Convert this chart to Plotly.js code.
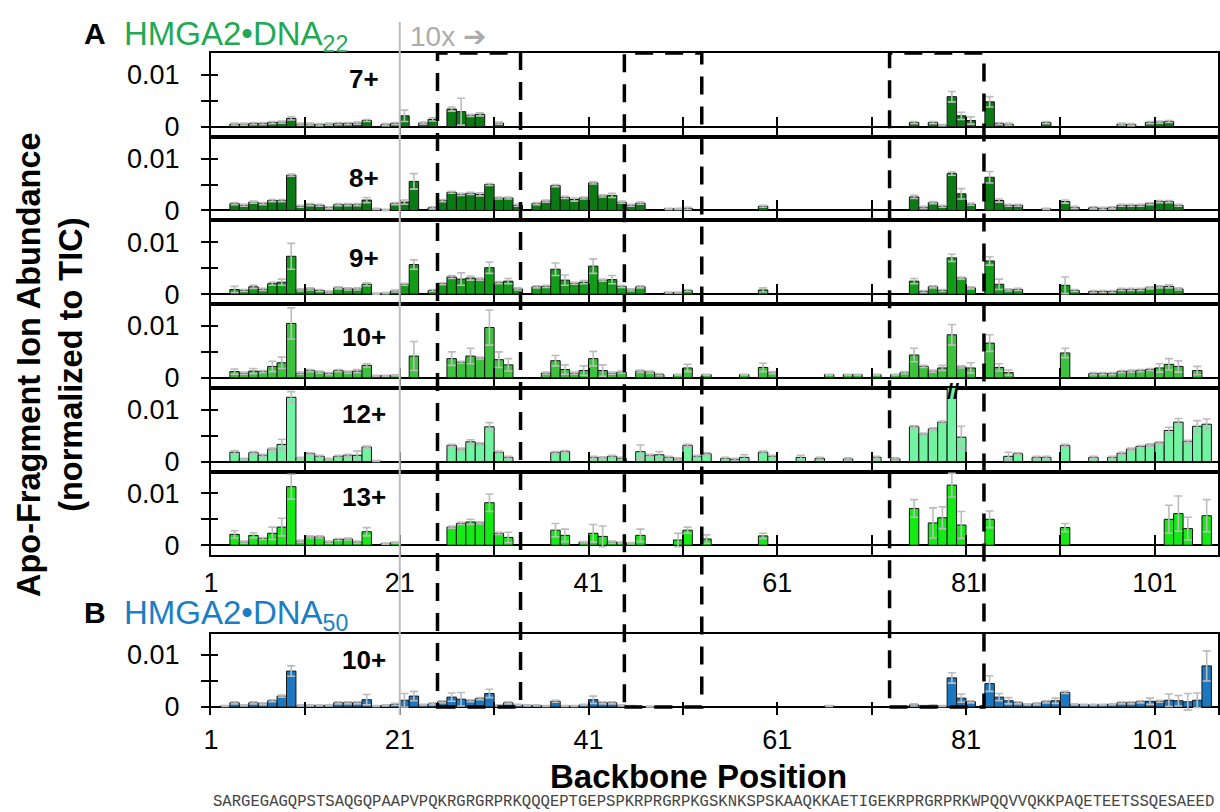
<!DOCTYPE html>
<html>
<head>
<meta charset="utf-8">
<script src="https://cdn.plot.ly/plotly-3.0.1.min.js"></script>
<style>
  html, body { margin: 0; padding: 0; background: #ffffff; }
  #chart { width: 1220px; height: 812px; }
</style>
</head>
<body>
<div id="chart"></div>
<script>
// Apo-fragment ion abundances (normalized to TIC) per backbone cleavage position.
// posN = backbone position, abN = mean abundance, sdN = standard deviation.

// HMGA2•DNA22, 7+
const pos7 = [3,4,5,6,7,8,9,10,11,12,13,14,15,16,17,19,20,21,23,24,26,27,28,29,31,
  75,77,78,79,80,81,83,84,85,89,97,98,100,101,102];
const ab7 = [.0005,.0005,.0006,.0006,.0008,.0009,.0016,.0005,.0005,.0004,.0005,.0006,.0006,.0007,.0012,.0004,.0006,.0021,.0007,.0014,.0034,.0029,.0022,.0024,.0007,
  .0008,.0008,.0003,.0058,.0021,.0012,.0048,.0006,.0005,.0008,.0005,.0004,.0008,.0009,.0010];
const sd7 = [.0002,.0002,.0002,.0002,.0002,.0002,.0003,.0002,.0002,.0002,.0002,.0002,.0002,.0002,.0002,.0002,.0002,.0011,.0002,.0003,.0004,.0026,.0002,.0003,.0002,
  .0002,.0002,.0001,.0010,.0007,.0007,.0010,.0002,.0002,.0002,.0002,.0002,.0002,.0002,.0002];

// HMGA2•DNA22, 8+
const pos8 = [3,4,5,6,7,8,9,10,11,12,13,14,15,16,17,18,19,20,21,22,
  24,25,26,27,28,29,30,31,32,33,
  35,36,37,38,39,40,41,42,43,44,45,46,
  49,50,51,59,
  75,76,77,78,79,80,81,
  83,84,85,86,
  89,91,92,
  94,95,96,97,98,99,100,101,102,103];
const ab8 = [.0013,.0010,.0016,.0013,.0019,.0019,.0068,.0008,.0011,.0010,.0005,.0011,.0011,.0011,.0020,.0003,.0001,.0013,.0016,.0056,
  .0005,.0019,.0035,.0031,.0033,.0031,.0050,.0024,.0024,.0010,
  .0013,.0018,.0048,.0025,.0021,.0024,.0053,.0028,.0029,.0016,.0010,.0014,
  .0003,.0003,.0004,.0008,
  .0026,.0006,.0015,.0008,.0071,.0032,.0012,
  .0064,.0019,.0010,.0010,
  .0003,.0017,.0006,
  .0005,.0004,.0005,.0010,.0010,.0010,.0013,.0017,.0017,.0010];
const sd8 = [.0002,.0002,.0002,.0002,.0002,.0002,.0002,.0002,.0002,.0002,.0002,.0002,.0002,.0002,.0005,.0001,.0001,.0002,.0004,.0015,
  .0002,.0002,.0002,.0002,.0002,.0003,.0002,.0002,.0002,.0002,
  .0002,.0002,.0002,.0002,.0003,.0002,.0002,.0002,.0004,.0002,.0002,.0002,
  .0001,.0001,.0002,.0002,
  .0003,.0002,.0002,.0002,.0003,.0010,.0002,
  .0011,.0003,.0002,.0002,
  .0001,.0003,.0002,
  .0002,.0002,.0002,.0002,.0002,.0002,.0002,.0002,.0002,.0002];

// HMGA2•DNA22, 9+
const pos9 = [3,4,5,6,7,8,9,10,11,12,13,14,15,16,17,18,19,20,21,22,
  24,25,26,27,28,29,30,31,32,33,
  35,36,37,38,39,40,41,42,43,44,45,46,
  49,50,51,59,
  75,76,77,78,79,80,81,
  83,84,85,86,
  91,92,
  94,95,96,97,98,99,100,101,102,103];
const ab9 = [.0009,.0007,.0014,.0009,.0020,.0023,.0073,.0008,.0010,.0007,.0004,.0012,.0010,.0010,.0019,.0001,.0002,.0006,.0019,.0057,
  .0007,.0020,.0033,.0029,.0031,.0029,.0051,.0022,.0025,.0010,
  .0014,.0015,.0048,.0027,.0021,.0023,.0054,.0027,.0028,.0015,.0008,.0014,
  .0003,.0003,.0007,.0008,
  .0025,.0005,.0014,.0007,.0070,.0031,.0012,
  .0064,.0019,.0008,.0009,
  .0017,.0007,
  .0005,.0005,.0005,.0009,.0009,.0009,.0012,.0014,.0015,.0010];
const sd9 = [.0006,.0002,.0003,.0002,.0003,.0006,.0025,.0002,.0002,.0002,.0002,.0002,.0002,.0002,.0003,.0001,.0001,.0002,.0002,.0009,
  .0002,.0002,.0003,.0012,.0004,.0002,.0011,.0002,.0005,.0002,
  .0002,.0002,.0012,.0010,.0002,.0003,.0014,.0002,.0008,.0002,.0002,.0002,
  .0001,.0001,.0002,.0004,
  .0005,.0002,.0002,.0002,.0007,.0002,.0002,
  .0008,.0010,.0002,.0002,
  .0016,.0002,
  .0002,.0002,.0002,.0002,.0002,.0002,.0002,.0002,.0003,.0002];

// HMGA2•DNA22, 10+
const pos10 = [3,4,5,6,7,8,9,10,11,12,13,14,15,16,17,18,19,20,
  22,
  26,27,28,29,30,31,32,
  36,37,38,39,40,41,42,43,44,
  46,47,48,
  50,51,
  53,57,
  59,60,
  66,
  68,69,
  71,
  73,74,75,76,77,78,79,80,81,
  83,84,85,
  91,
  94,95,96,97,98,99,100,101,102,103,
  105];
const ab10 = [.0012,.0009,.0013,.0012,.0022,.0029,.0105,.0009,.0014,.0011,.0008,.0014,.0011,.0013,.0024,.0004,.0004,.0005,
  .0042,
  .0037,.0030,.0042,.0038,.0097,.0035,.0025,
  .0009,.0033,.0016,.0009,.0014,.0037,.0014,.0009,.0011,
  .0013,.0011,.0006,
  .0006,.0019,
  .0006,.0006,
  .0020,.0010,
  .0006,
  .0006,.0006,
  .0006,
  .0006,.0010,.0044,.0022,.0013,.0019,.0083,.0021,.0019,
  .0067,.0020,.0010,
  .0048,
  .0008,.0008,.0008,.0012,.0013,.0014,.0016,.0019,.0026,.0022,
  .0014];
const sd10 = [.0005,.0002,.0005,.0002,.0010,.0011,.0030,.0002,.0002,.0002,.0002,.0002,.0002,.0003,.0003,.0001,.0001,.0001,
  .0028,
  .0013,.0002,.0015,.0002,.0034,.0015,.0012,
  .0002,.0010,.0009,.0002,.0009,.0014,.0011,.0002,.0002,
  .0002,.0002,.0002,
  .0001,.0007,
  .0001,.0001,
  .0008,.0002,
  .0001,
  .0001,.0001,
  .0001,
  .0001,.0002,.0013,.0002,.0002,.0005,.0020,.0002,.0010,
  .0016,.0007,.0005,
  .0009,
  .0002,.0002,.0002,.0002,.0002,.0002,.0002,.0008,.0011,.0011,
  .0008];

// HMGA2•DNA22, 12+ (position 79 runs off scale)
const pos12 = [3,4,5,6,7,8,9,10,11,12,13,14,15,16,17,18,
  26,27,28,29,30,31,32,
  37,38,
  41,42,43,44,
  46,47,48,49,50,51,52,53,
  55,56,57,
  59,60,
  63,65,68,71,73,
  75,76,77,78,79,80,
  85,86,
  88,89,
  91,94,
  96,97,98,99,100,101,102,103,104,105,106];
const ab12 = [.0018,.0005,.0017,.0012,.0024,.0033,.0124,.0007,.0015,.0010,.0005,.0010,.0012,.0012,.0028,.0001,
  .0031,.0024,.0038,.0034,.0067,.0018,.0008,
  .0017,.0019,
  .0008,.0007,.0010,.0006,
  .0019,.0012,.0013,.0008,.0005,.0031,.0010,.0015,
  .0006,.0004,.0008,
  .0018,.0010,
  .0008,.0006,.0005,.0008,.0005,
  .0067,.0053,.0063,.0076,.0200,.0047,
  .0010,.0015,
  .0008,.0008,
  .0031,.0008,
  .0008,.0016,.0024,.0029,.0032,.0036,.0060,.0076,.0039,.0068,.0072];
const sd12 = [.0003,.0001,.0002,.0002,.0002,.0010,.0011,.0001,.0002,.0002,.0001,.0002,.0002,.0008,.0002,.0001,
  .0002,.0002,.0004,.0002,.0008,.0002,.0002,
  .0002,.0002,
  .0002,.0002,.0002,.0002,
  .0013,.0002,.0006,.0002,.0002,.0002,.0002,.0002,
  .0002,.0002,.0005,
  .0002,.0002,
  .0004,.0002,.0002,.0002,.0002,
  .0002,.0002,.0002,.0002,0,.0021,
  .0008,.0002,
  .0002,.0002,
  .0002,.0002,
  .0002,.0002,.0002,.0002,.0002,.0002,.0006,.0007,.0002,.0011,.0010];

// HMGA2•DNA22, 13+
const pos13 = [3,4,5,6,7,8,9,10,11,12,13,14,15,16,17,
  19,20,
  26,27,28,29,30,31,32,
  37,38,
  40,41,42,43,44,45,46,
  50,51,53,59,
  75,77,78,79,80,
  83,91,
  102,103,104,106];
const ab13 = [.0021,.0006,.0019,.0013,.0023,.0035,.0113,.0008,.0016,.0016,.0006,.0011,.0012,.0006,.0026,
  .0003,.0005,
  .0035,.0042,.0045,.0043,.0082,.0023,.0015,
  .0029,.0019,
  .0006,.0023,.0017,.0006,.0005,.0004,.0019,
  .0010,.0029,.0012,.0018,
  .0071,.0043,.0053,.0116,.0039,
  .0050,.0034,
  .0050,.0061,.0032,.0057];
const sd13 = [.0007,.0002,.0005,.0002,.0012,.0017,.0024,.0002,.0002,.0002,.0002,.0002,.0002,.0002,.0008,
  .0001,.0001,
  .0002,.0002,.0005,.0002,.0017,.0002,.0010,
  .0013,.0012,
  .0001,.0017,.0020,.0002,.0001,.0001,.0012,
  .0013,.0006,.0008,.0005,
  .0017,.0029,.0021,.0023,.0026,
  .0016,.0008,
  .0027,.0034,.0022,.0031];

// HMGA2•DNA50, 10+
const posB = [2,3,4,5,6,7,8,9,10,11,12,13,14,15,16,17,18,19,20,21,22,23,24,25,26,27,28,29,30,31,32,33,34,35,36,37,38,39,40,41,42,43,44,45,
  47,66,
  75,76,77,78,79,80,81,
  83,84,85,86,87,88,89,90,91,92,93,94,95,96,97,98,99,100,101,102,103,104,105,106];
const abB = [.0002,.0008,.0003,.0008,.0006,.0012,.0021,.0069,.0003,.0003,.0003,.0003,.0008,.0008,.0008,.0014,.0002,.0003,.0005,.0013,.0021,.0004,.0006,.0010,.0019,.0015,.0012,.0016,.0026,.0003,.0008,.0004,.0003,.0003,.0002,.0011,.0002,.0002,.0004,.0014,.0008,.0008,.0003,.0002,
  .0001,.0002,
  .0004,.0002,.0003,.0002,.0056,.0017,.0010,
  .0045,.0019,.0012,.0008,.0005,.0006,.0010,.0012,.0028,.0005,.0004,.0004,.0004,.0005,.0008,.0008,.0010,.0011,.0011,.0013,.0012,.0010,.0013,.0079];
const sdB = [.0001,.0002,.0001,.0002,.0002,.0002,.0002,.0010,.0001,.0001,.0001,.0001,.0002,.0002,.0002,.0010,.0001,.0001,.0002,.0013,.0009,.0001,.0002,.0002,.0008,.0013,.0002,.0002,.0008,.0001,.0002,.0001,.0001,.0001,.0001,.0002,.0001,.0001,.0001,.0007,.0002,.0002,.0001,.0001,
  .0001,.0001,
  .0002,.0001,.0001,.0001,.0010,.0008,.0002,
  .0015,.0007,.0006,.0002,.0001,.0002,.0002,.0005,.0002,.0001,.0001,.0001,.0001,.0001,.0002,.0002,.0002,.0006,.0002,.0012,.0010,.0016,.0014,.0029];

const chargeLabels = ['7+', '8+', '9+', '10+', '12+', '13+', '10+'];
const xTickVals = [1, 11, 21, 31, 41, 51, 61, 71, 81, 91, 101];
const xTickText = ['1', '', '21', '', '41', '', '61', '', '81', '', '101'];
const sequence = 'SARGEGAGQPSTSAQGQPAAPVPQKRGRGRPRKQQQEPTGEPSPKRPRGRPKGSKNKSPSKAAQKKAETIGEKRPRGRPRKWPQQVVQKKPAQETEETSSQESAEED';
// AT-hook regions outlined across all panels (backbone coordinates)
const hookSpans = [[25, 33.8], [44.8, 53], [72.9, 82.9]];

// ---------------------------------------------------------------------------
const FONT = 'Liberation Sans, Arial, Helvetica, sans-serif';
const W = 1220, H = 812;
const M = { l: 211, r: 2, t: 53, b: 97 };
const plotW = W - M.l - M.r;
const plotH = H - M.t - M.b;
const py = p => (H - M.b - p) / plotH;     // page row -> paper y
const pxp = p => (p - M.l) / plotW;       // page column -> paper x

const series = [
  { pos: pos7,  ab: ab7,  sd: sd7,  color: '#0c7a14' },
  { pos: pos8,  ab: ab8,  sd: sd8,  color: '#0c7a14' },
  { pos: pos9,  ab: ab9,  sd: sd9,  color: '#129c18' },
  { pos: pos10, ab: ab10, sd: sd10, color: '#3cc23c' },
  { pos: pos12, ab: ab12, sd: sd12, color: '#72f3a2' },
  { pos: pos13, ab: ab13, sd: sd13, color: '#14ea14' },
  { pos: posB,  ab: abB,  sd: sdB,  color: '#1b77c0' }
];

// panel frames in page rows
const panelH = 83.7;
const frames = [];
for (let k = 0; k < 6; k++) frames.push({ top: 53 + k * panelH, bottom: 53 + (k + 1) * panelH, range: [-0.00193, 0.01423] });
frames.push({ top: 634, bottom: 715, range: [-0.00154, 0.01404] });
const xRange = [1, 107.7];

const traces = [];
const layout = {
  width: W, height: H,
  margin: M,
  paper_bgcolor: '#ffffff',
  plot_bgcolor: 'rgba(0,0,0,0)',
  showlegend: false,
  hovermode: false,
  bargap: 0,
  barmode: 'overlay',
  font: { family: FONT, color: '#000' },
  annotations: [],
  shapes: []
};

series.forEach((s, i) => {
  const n = i + 1;
  const xa = n === 1 ? 'x' : 'x' + n;
  const ya = n === 1 ? 'y' : 'y' + n;
  const isB = n === 7;
  const showLabels = n === 6 || n === 7;
  traces.push({
    type: 'bar',
    // cleavage n lies between residues n and n+1
    x: s.pos.map(p => p + 0.5),
    y: s.ab,
    width: 1,
    xaxis: xa, yaxis: ya,
    marker: { color: s.color, line: { color: '#141414', width: 1 } },
    error_y: { type: 'data', array: s.sd, visible: true, color: '#bcbcbc', thickness: 1.6, width: 4 }
  });
  const f = frames[i];
  const dom = [py(f.bottom), py(f.top)];
  layout['xaxis' + (n === 1 ? '' : n)] = {
    domain: [0, 1], range: xRange, anchor: ya,
    tickmode: 'array', tickvals: xTickVals, ticktext: xTickText,
    ticks: 'inside', ticklen: isB ? 13 : 20, tickwidth: 2, tickcolor: '#000',
    showticklabels: showLabels, tickfont: { size: 27, family: FONT, color: '#000' },
    ticklabelstandoff: isB ? 6 : 2,
    showline: !isB, mirror: !isB, linewidth: 2, linecolor: '#000',
    showgrid: false, zeroline: false, fixedrange: true
  };
  layout['yaxis' + (n === 1 ? '' : n)] = {
    domain: dom, range: f.range, anchor: xa,
    tickmode: 'array', tickvals: [0, 0.005, 0.01], ticktext: ['0', '', '0.01'],
    ticks: 'outside', ticklen: 8, tickwidth: 2, tickcolor: '#000',
    tickfont: { size: 27, family: FONT, color: '#000' },
    ticklabelstandoff: 16,
    showline: true, mirror: true, linewidth: 2, linecolor: '#000',
    zeroline: true, zerolinecolor: '#000', zerolinewidth: 2,
    showgrid: false, fixedrange: true
  };
  // companion axis: inward half of the crossing y ticks
  const oy = 'y' + (n + 7);
  layout['yaxis' + (n + 7)] = {
    overlaying: ya, anchor: xa, side: 'left', range: f.range,
    tickmode: 'array', tickvals: [0, 0.005, 0.01],
    ticks: 'inside', ticklen: 7, tickwidth: 2, tickcolor: '#000',
    showticklabels: false, showline: false, zeroline: false, showgrid: false, fixedrange: true
  };
  traces.push({ type: 'scatter', x: [], y: [], xaxis: xa, yaxis: oy, showlegend: false });

  // charge-state label
  layout.annotations.push({
    text: '<b>' + chargeLabels[i] + '</b>', xref: 'paper', yref: 'paper',
    x: pxp(364), y: py([79, 178, 258, 337, 414, 497, 660][i]),
    xanchor: 'center', yanchor: 'middle', showarrow: false,
    font: { size: 26, family: FONT, color: '#000' }
  });
});

// top border of the DNA50 panel
layout.xaxis8 = {
  overlaying: 'x7', anchor: 'y7', side: 'top', range: xRange,
  showline: true, linewidth: 2, linecolor: '#000', ticks: '', showticklabels: false,
  showgrid: false, zeroline: false, fixedrange: true
};
traces.push({ type: 'scatter', x: [], y: [], xaxis: 'x8', yaxis: 'y7', showlegend: false });

// grey guide at residue 21
layout.shapes.push({
  type: 'line', xref: 'x', yref: 'paper', x0: 21, x1: 21, y0: py(715), y1: py(22),
  line: { color: '#bdbdbd', width: 2 }, layer: 'above'
});
// dashed AT-hook boxes spanning every panel
hookSpans.forEach(([a, b]) => {
  layout.shapes.push({
    type: 'rect', xref: 'x', yref: 'paper', x0: a, x1: b, y0: py(707), y1: py(53),
    line: { color: '#000', width: 3.5, dash: '18px,12px' }, fillcolor: 'rgba(0,0,0,0)', layer: 'above'
  });
});

const ann = (text, x, y, opts) => layout.annotations.push(Object.assign({
  text, xref: 'paper', yref: 'paper', x: pxp(x), y: py(y), showarrow: false
}, opts));

ann('<b>A</b>', 95, 33, { xanchor: 'center', yanchor: 'middle', font: { size: 30, family: FONT, color: '#000' } });
ann('HMGA2•DNA<sub>22</sub>', 122, 36, { xanchor: 'left', yanchor: 'middle', font: { size: 33, family: FONT, color: '#1fa955' } });
ann('<b>B</b>', 95, 612, { xanchor: 'center', yanchor: 'middle', font: { size: 30, family: FONT, color: '#000' } });
ann('HMGA2•DNA<sub>50</sub>', 122, 615, { xanchor: 'left', yanchor: 'middle', font: { size: 33, family: FONT, color: '#1b7ec4' } });
ann('10x <span style="font-family:DejaVu Sans">➔</span>', 408, 37, { xanchor: 'left', yanchor: 'middle', font: { size: 28, family: FONT, color: '#ababab' } });
ann('<b>//</b>', 953, 391, { xanchor: 'center', yanchor: 'middle', font: { size: 22, family: FONT, color: '#000' } });
ann('<b>Apo-Fragment Ion Abundance<br>(normalized to TIC)</b>', 50, 365,
  { xanchor: 'center', yanchor: 'middle', textangle: -90, font: { size: 32.5, family: FONT, color: '#000' } });
ann('<b>Backbone Position</b>', 698, 776, { xanchor: 'center', yanchor: 'middle', font: { size: 33, family: FONT, color: '#000' } });
ann(sequence, 713.5, 802, { xanchor: 'center', yanchor: 'middle', font: { size: 15.6, family: 'Liberation Mono, Courier New, monospace', color: '#444' } });

Plotly.newPlot('chart', traces, layout, { displayModeBar: false, staticPlot: true });
</script>
</body>
</html>
